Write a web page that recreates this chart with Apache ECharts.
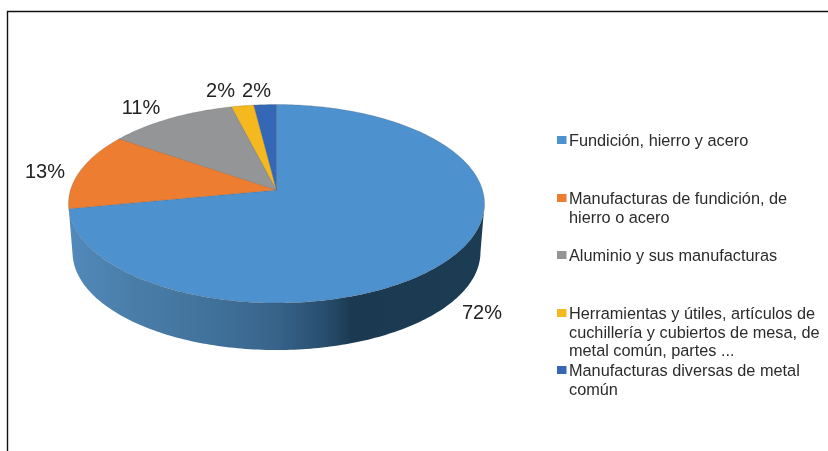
<!DOCTYPE html>
<html><head><meta charset="utf-8">
<style>html,body{margin:0;padding:0;background:#fff}#c{width:828px;height:451px}</style>
<script src="https://cdn.jsdelivr.net/npm/echarts@6/dist/echarts.min.js"></script>
</head><body><div id="c"></div>
<script>
const categories = [
  "Fundición, hierro y acero",
  "Manufacturas de fundición, de\nhierro o acero",
  "Aluminio y sus manufacturas",
  "Herramientas y útiles, artículos de\ncuchillería y cubiertos de mesa, de\nmetal común, partes ...",
  "Manufacturas diversas de metal\ncomún"
];
const values = [72, 12.6, 11.4, 2, 2];
const colors = ["#4e91cf", "#ed7d31", "#939597", "#f5b81f", "#3468b6"];
const labelCentres = [[482,313],[45,172],[141,108],[220.5,91],[256.5,91]];
const legendSwatchTop = [136,194,251,309,366];

const total = values.reduce((a,b)=>a+b,0);
const starts = []; { let s=0; for(const v of values){starts.push(s); s+=v;} }
const FONT = '"Liberation Sans", Arial, sans-serif';
// perspective projection of the pie's disc
const P = 0.1385;
const topFace = {cx:276.5, x0:190, kx:206, ky:97.35};
const botFace = {cx:276.5, x0:238.6, kx:202, ky:96};
function proj(f, deg){
  const a = deg*Math.PI/180, u = Math.sin(a), v = Math.cos(a), d = 1+P*v;
  return [f.cx + f.kx*u/d, f.x0 - f.ky*v/d];
}
function arc(f, from, to){
  const n = Math.max(2, Math.ceil(Math.abs(to-from)));
  const pts = [];
  for(let i=0;i<=n;i++) pts.push(proj(f, from+(to-from)*i/n));
  return pts;
}
const frac = v => v/total*360;

function renderItem(params, api){
  const i = params.dataIndex, val = api.value(0);
  const a0 = frac(starts[i]), a1 = a0+frac(val);
  const kids = [];
  if(i===0){
    const pts = arc(topFace, 98, a1).concat(arc(botFace, a1, 98));
    kids.push({type:'polygon', shape:{points:pts}, style:{
      fill:new echarts.graphic.LinearGradient(0,0,1,0,[
        {offset:0,color:'#5289bc'},{offset:0.15,color:'#4a7ea9'},
        {offset:0.35,color:'#40719a'},{offset:0.5,color:'#37638a'},
        {offset:0.62,color:'#274d6c'},{offset:0.68,color:'#1b3a52'},
        {offset:1,color:'#1c3c54'}]),
      stroke:null}});
  }
  kids.push({type:'polygon',
    shape:{points:[[topFace.cx,topFace.x0]].concat(arc(topFace,a0,a1))},
    style:{fill:colors[i], stroke:'rgba(70,70,70,0.35)', lineWidth:0.6, lineJoin:'round'}});
  const c = labelCentres[i];
  kids.push({type:'text', z2:10, style:{x:c[0], y:c[1], text:Math.round(val/total*100)+'%',
    fill:'#222', font:'20px '+FONT, align:'center', verticalAlign:'middle'}});
  const ly = legendSwatchTop[i];
  kids.push({type:'rect', shape:{x:557,y:ly,width:9.5,height:8}, style:{fill:colors[i], stroke:null}});
  kids.push({type:'text', z2:10, style:{x:569, y:ly-4, text:categories[i], fill:'#2b2b2b',
    font:'16.3px '+FONT, lineHeight:18.7, align:'left', verticalAlign:'top'}});
  return {type:'group', children:kids};
}

const chart = echarts.init(document.getElementById('c'), null, {renderer:'canvas'});
chart.setOption({
  animation:false,
  backgroundColor:'#fff',
  graphic:[{type:'polyline', silent:true,
    shape:{points:[[7.5,451],[7.5,11.5],[828,11.5]]},
    style:{stroke:'#111', lineWidth:1.4, fill:null}}],
  series:[{type:'custom', coordinateSystem:'none', silent:true,
    data:values.map((v,i)=>({name:categories[i], value:[v]})),
    renderItem}]
});
</script></body></html>
